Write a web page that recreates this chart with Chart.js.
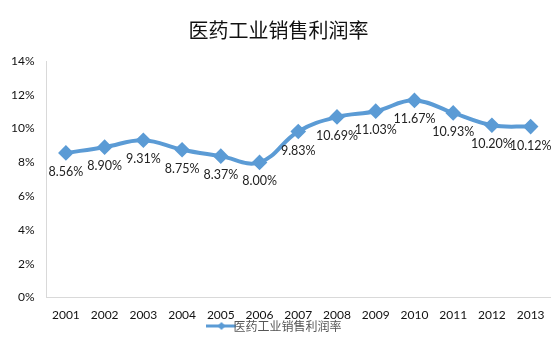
<!DOCTYPE html>
<html>
<head>
<meta charset="utf-8">
<script src="https://cdn.jsdelivr.net/npm/chart.js@4.4.0/dist/chart.umd.min.js"></script>
<style>
  html, body { margin: 0; padding: 0; background: #fff; }
  #wrap { width: 559px; height: 346px; }
</style>
</head>
<body>
<div id="wrap"><canvas id="chart"></canvas></div>
<script>
const years = ['2001','2002','2003','2004','2005','2006','2007','2008','2009','2010','2011','2012','2013'];
const profitRate = [8.56, 8.90, 9.31, 8.75, 8.37, 8.00, 9.83, 10.69, 11.03, 11.67, 10.93, 10.20, 10.12];
const yTicks = [0, 2, 4, 6, 8, 10, 12, 14];

const FONT_CN = '"Noto Sans CJK SC", "Noto Sans", sans-serif';
const FONT_NUM = 'Lato, "Open Sans", sans-serif';
const blue = '#5B9BD5';

// legend swatch: line with a diamond in the middle
const swatch = document.createElement('canvas');
swatch.width = 30;
swatch.height = 10;
(function () {
  const c = swatch.getContext('2d');
  c.strokeStyle = blue;
  c.lineWidth = 3;
  c.beginPath();
  c.moveTo(0, 5);
  c.lineTo(30, 5);
  c.stroke();
  c.fillStyle = blue;
  c.beginPath();
  c.moveTo(15, 1); c.lineTo(19, 5); c.lineTo(15, 9); c.lineTo(11, 5);
  c.closePath();
  c.fill();
})();

// draw value labels under each point
const valueLabels = {
  id: 'valueLabels',
  afterDatasetsDraw(chart) {
    const ctx = chart.ctx;
    const meta = chart.getDatasetMeta(0);
    ctx.save();
    ctx.font = '12.5px ' + FONT_NUM;
    ctx.fillStyle = '#222';
    ctx.textAlign = 'center';
    ctx.textBaseline = 'middle';
    meta.data.forEach((pt, i) => {
      ctx.fillText(profitRate[i].toFixed(2) + '%', pt.x, pt.y + 19);
    });
    ctx.restore();
  }
};

new Chart(document.getElementById('chart'), {
  type: 'line',
  data: {
    labels: years,
    datasets: [{
      label: '医药工业销售利润率',
      data: profitRate,
      borderColor: blue,
      backgroundColor: blue,
      borderWidth: 4,
      tension: 0.4,
      pointStyle: 'rectRot',
      pointRadius: 5,
      pointBackgroundColor: blue,
      pointBorderColor: blue
    }]
  },
  options: {
    responsive: true,
    maintainAspectRatio: false,
    animation: false,
    layout: { padding: { left: 7, right: 9, top: 0, bottom: 4 } },
    plugins: {
      title: {
        display: true,
        text: '医药工业销售利润率',
        color: '#111',
        font: { family: FONT_CN, size: 20, weight: 'normal' },
        padding: { top: 18, bottom: 19 }
      },
      legend: {
        position: 'bottom',
        labels: {
          color: '#555',
          font: { family: FONT_CN, size: 12 },
          usePointStyle: true,
          pointStyle: swatch,
          padding: 0
        }
      },
      tooltip: { enabled: false }
    },
    scales: {
      x: {
        offset: true,
        afterFit(axis) { axis.height -= 4; },
        grid: { display: false },
        border: { color: '#d9d9d9' },
        ticks: { color: '#111', font: { family: FONT_NUM, size: 12 }, padding: 2 }
      },
      y: {
        min: 0,
        max: 14,
        afterBuildTicks(axis) { axis.ticks = yTicks.map(v => ({ value: v })); },
        grid: { display: false },
        border: { color: '#d9d9d9' },
        ticks: {
          color: '#111',
          font: { family: FONT_NUM, size: 12 },
          padding: 4,
          callback: v => v + '%'
        }
      }
    }
  },
  plugins: [valueLabels]
});
</script>
</body>
</html>
